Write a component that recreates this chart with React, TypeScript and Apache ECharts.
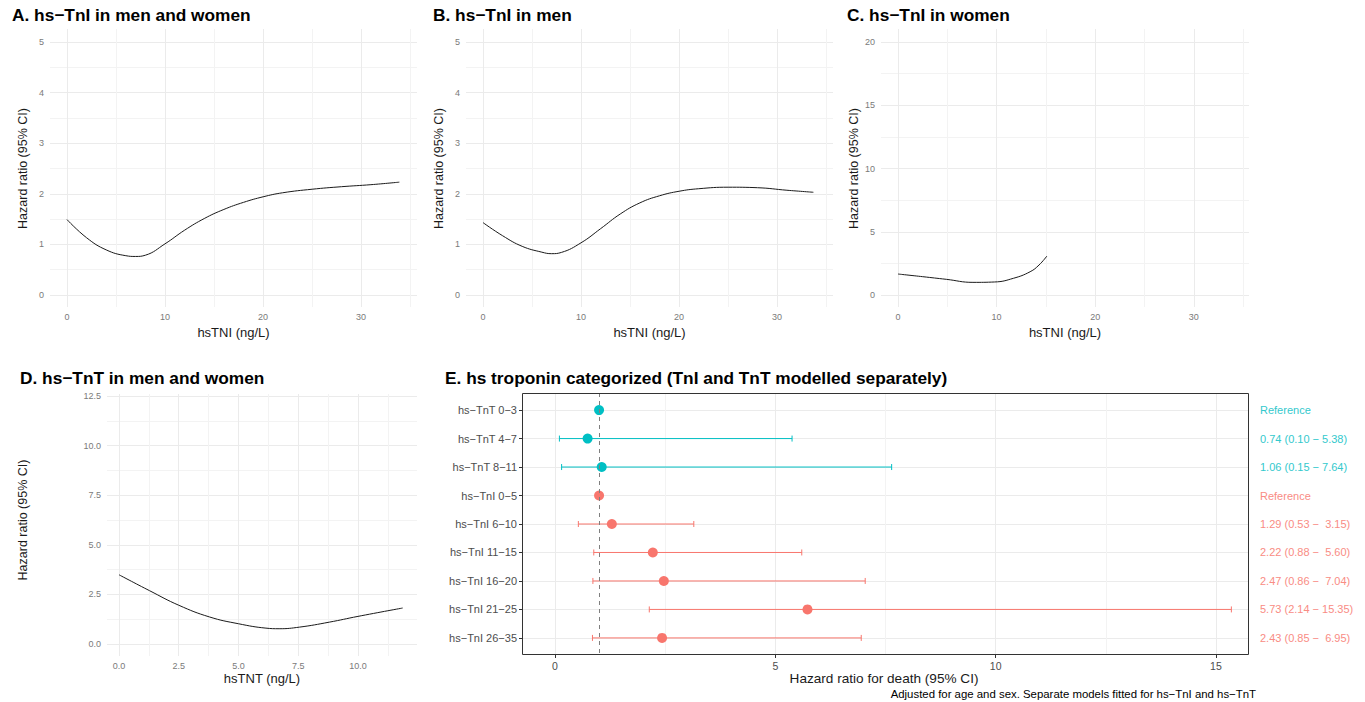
import React, { useEffect, useRef } from 'react';
import * as echarts from 'echarts';

const FONT = '"Liberation Sans", Arial, Helvetica, sans-serif';
const TEAL = '#00BFC4';
const SALMON = '#F8766D';
const GRID_COLORS = ['#ebebeb', '#f3f3f3'];
const TICK_COLOR = '#7a7a7a';

// Panel A: hs-TnI in men and women
const aX = [0, 2, 4, 6, 7, 8, 10, 12, 14, 16, 18, 20, 22, 25, 28, 31, 33.9];
const aY = [1.48, 1.12, 0.88, 0.765, 0.75, 0.775, 1.0, 1.27, 1.5, 1.68, 1.82, 1.93, 2.01, 2.08, 2.13, 2.17, 2.22];
// Panel B: hs-TnI in men
const bX = [0, 2, 4, 6, 7, 8, 10, 12, 14, 16, 18, 20, 22, 25, 28, 31, 33.7];
const bY = [1.42, 1.16, 0.95, 0.835, 0.805, 0.83, 1.02, 1.3, 1.59, 1.81, 1.95, 2.04, 2.09, 2.12, 2.11, 2.06, 2.02];
// Panel C: hs-TnI in women
const cX = [0, 2.5, 4.9, 7.6, 9.8, 11.7, 13.4, 14.3, 15.1];
const cY = [1.61, 1.4, 1.19, 0.95, 0.98, 1.27, 1.79, 2.32, 3.03];
// Panel D: hs-TnT in men and women
const dX = [0, 1.28, 2.5, 3.79, 5.0, 6.15, 6.7, 7.55, 8.8, 10, 11.87];
const dY = [3.48, 2.68, 1.95, 1.36, 1.02, 0.8, 0.77, 0.85, 1.1, 1.39, 1.81];

// Panel E: categorized troponin
const eCats = ['hs−TnT 0−3', 'hs−TnT 4−7', 'hs−TnT 8−11', 'hs−TnI 0−5', 'hs−TnI 6−10', 'hs−TnI 11−15', 'hs−TnI 16−20', 'hs−TnI 21−25', 'hs−TnI 26−35'];
const eGroup = [0, 0, 0, 1, 1, 1, 1, 1, 1]; // 0 = TnT, 1 = TnI
const eHR = [1, 0.74, 1.06, 1, 1.29, 2.22, 2.47, 5.73, 2.43];
const eLo = [null, 0.1, 0.15, null, 0.53, 0.88, 0.86, 2.14, 0.85];
const eHi = [null, 5.38, 7.64, null, 3.15, 5.6, 7.04, 15.35, 6.95];
const eRight = ['Reference', '0.74 (0.10 − 5.38)', '1.06 (0.15 − 7.64)', 'Reference', '1.29 (0.53 −  3.15)', '2.22 (0.88 −  5.60)', '2.47 (0.86 −  7.04)', '5.73 (2.14 − 15.35)', '2.43 (0.85 −  6.95)'];
const eXTicks = [0, 5, 10, 15];

const titles = [
  { text: 'A. hs−TnI in men and women', left: 12, top: 6 },
  { text: 'B. hs−TnI in men', left: 433, top: 6 },
  { text: 'C. hs−TnI in women', left: 847, top: 6 },
  { text: 'D. hs−TnT in men and women', left: 20, top: 369 },
  { text: 'E. hs troponin categorized (TnI and TnT modelled separately)', left: 445, top: 369 },
];
const caption = 'Adjusted for age and sex. Separate models fitted for hs−TnI and hs−TnT';

const isMult = (v: number, m: number) => Math.abs(v / m - Math.round(v / m)) < 1e-6;

function buildOption() {
  const grid: any[] = [];
  const xAxis: any[] = [];
  const yAxis: any[] = [];
  const series: any[] = [];

  const curvePanel = (p: any) => {
    // background grid: horizontal grid lines, y labels, axis titles
    const gh = grid.length;
    grid.push({ left: p.hLeft, top: p.hTop, width: p.hWidth, height: p.hHeight });
    xAxis.push({
      gridIndex: gh, type: 'value', min: 0, max: 1, show: true,
      axisLine: { show: false }, axisTick: { show: false }, axisLabel: { show: false }, splitLine: { show: false },
      name: p.xName, nameLocation: 'middle', nameGap: p.xNameGap,
      nameTextStyle: { fontSize: 13, color: '#1a1a1a', fontFamily: FONT },
    });
    yAxis.push({
      gridIndex: gh, type: 'value', min: p.yMin, max: p.yMax, interval: p.yInterval,
      axisLine: { show: false }, axisTick: { show: false },
      axisLabel: {
        color: TICK_COLOR, fontSize: 9, margin: 6, fontFamily: FONT,
        formatter: (v: number) => (isMult(v, p.yLabelEvery) ? p.yFmt(v) : ''),
      },
      splitLine: { show: true, lineStyle: { color: GRID_COLORS, width: 1 } },
      name: p.yName, nameLocation: 'middle', nameGap: p.yNameGap, nameRotate: 90,
      nameTextStyle: { fontSize: 12.5, color: '#1a1a1a', fontFamily: FONT },
    });
    // data grid: vertical grid lines, x labels, curve
    const gv = grid.length;
    grid.push({ left: p.vLeft, top: p.vTop, width: p.vWidth, height: p.vHeight });
    xAxis.push({
      gridIndex: gv, type: 'value', min: 0, max: p.xMax, interval: p.xInterval,
      axisLine: { show: false }, axisTick: { show: false },
      axisLabel: {
        color: TICK_COLOR, fontSize: 9, margin: 5, fontFamily: FONT,
        formatter: (v: number) => (isMult(v, p.xLabelEvery) && v <= p.xLastLabel ? p.xFmt(v) : ''),
      },
      splitLine: { show: true, showMaxLine: false, lineStyle: { color: GRID_COLORS, width: 1 } },
    });
    yAxis.push({ gridIndex: gv, type: 'value', min: p.vYMin, max: p.vYMax, show: false });
    series.push({
      type: 'line', xAxisIndex: xAxis.length - 1, yAxisIndex: yAxis.length - 1,
      data: p.xs.map((x: number, i: number) => [x, p.ys[i]]),
      showSymbol: false, smooth: 0.45, clip: false,
      lineStyle: { color: '#1a1a1a', width: 1 },
    });
  };

  const intFmt = (v: number) => String(Math.round(v));
  const oneDec = (v: number) => v.toFixed(1);

  curvePanel({
    hLeft: 50, hTop: 42, hWidth: 367, hHeight: 253, yMin: 0, yMax: 5, yInterval: 0.5, yLabelEvery: 1, yFmt: intFmt,
    vLeft: 67, vTop: 29, vWidth: 350, vHeight: 278, xMax: 35.7, xInterval: 5, xLabelEvery: 10, xLastLabel: 30, xFmt: intFmt,
    vYMin: -0.25, vYMax: 5.25, xs: aX, ys: aY,
    xName: 'hsTNI (ng/L)', xNameGap: 31, yName: 'Hazard ratio (95% CI)', yNameGap: 21,
  });
  curvePanel({
    hLeft: 466, hTop: 42, hWidth: 367, hHeight: 253, yMin: 0, yMax: 5, yInterval: 0.5, yLabelEvery: 1, yFmt: intFmt,
    vLeft: 483, vTop: 29, vWidth: 350, vHeight: 278, xMax: 35.7, xInterval: 5, xLabelEvery: 10, xLastLabel: 30, xFmt: intFmt,
    vYMin: -0.25, vYMax: 5.25, xs: bX, ys: bY,
    xName: 'hsTNI (ng/L)', xNameGap: 31, yName: 'Hazard ratio (95% CI)', yNameGap: 21,
  });
  curvePanel({
    hLeft: 881, hTop: 42, hWidth: 368, hHeight: 253, yMin: 0, yMax: 20, yInterval: 2.5, yLabelEvery: 5, yFmt: intFmt,
    vLeft: 898, vTop: 29, vWidth: 352, vHeight: 278, xMax: 35.7, xInterval: 5, xLabelEvery: 10, xLastLabel: 30, xFmt: intFmt,
    vYMin: -1, vYMax: 21, xs: cX, ys: cY,
    xName: 'hsTNI (ng/L)', xNameGap: 31, yName: 'Hazard ratio (95% CI)', yNameGap: 21,
  });
  curvePanel({
    hLeft: 107, hTop: 396, hWidth: 310, hHeight: 248, yMin: 0, yMax: 12.5, yInterval: 1.25, yLabelEvery: 2.5, yFmt: oneDec,
    vLeft: 119, vTop: 394, vWidth: 298, vHeight: 262, xMax: 12.47, xInterval: 1.25, xLabelEvery: 2.5, xLastLabel: 10, xFmt: oneDec,
    vYMin: -0.6, vYMax: 12.56, xs: dX, ys: dY,
    xName: 'hsTNT (ng/L)', xNameGap: 28, yName: 'Hazard ratio (95% CI)', yNameGap: 78,
  });

  // Panel E: category labels grid (rows at category centres)
  const gl = grid.length;
  grid.push({ left: 522, top: 393 + 0.6 * 28.48, width: 727, height: 8 * 28.48 });
  xAxis.push({ gridIndex: gl, type: 'value', show: false });
  yAxis.push({
    gridIndex: gl, type: 'category', data: eCats, inverse: true, boundaryGap: false,
    axisLine: { show: false },
    axisTick: { show: true, length: 3, interval: 0, lineStyle: { color: '#333333' } },
    axisLabel: { interval: 0, color: '#4d4d4d', fontSize: 11, margin: 5, fontFamily: FONT },
    splitLine: { show: true, interval: 0, lineStyle: { color: '#ebebeb', width: 1 } },
  });
  yAxis.push({
    gridIndex: gl, type: 'category', position: 'right', data: eRight, inverse: true, boundaryGap: false,
    axisLine: { show: false }, axisTick: { show: false }, splitLine: { show: false },
    axisLabel: {
      interval: 0, fontSize: 11, margin: 11, fontFamily: FONT,
      formatter: (_v: string, i: number) => eRight[i],
      color: (_v: string, i: number) => (eGroup[i] === 0 ? '#33c9cd' : '#f98c84'),
    },
  });

  // Panel E: data grid
  const ge = grid.length;
  grid.push({ left: 555, top: 393, width: 694, height: 262 });
  const exGrid = xAxis.length;
  xAxis.push({
    gridIndex: ge, type: 'value', min: 0, max: 15.75, interval: 2.5,
    axisLine: { show: false }, axisTick: { show: false }, axisLabel: { show: false },
    splitLine: { show: true, showMaxLine: false, lineStyle: { color: GRID_COLORS, width: 1 } },
  });
  xAxis.push({
    gridIndex: ge, type: 'value', min: 0, max: 15.75, interval: 5, position: 'bottom',
    axisLine: { show: false },
    axisTick: { show: true, length: 3, lineStyle: { color: '#333333' }, customValues: eXTicks },
    axisLabel: {
      color: '#4d4d4d', fontSize: 10.5, margin: 5, fontFamily: FONT, customValues: eXTicks,
      formatter: (v: number) => (isMult(v, 5) ? String(v) : ''),
    },
    splitLine: { show: false },
  });
  const eyIdx = yAxis.length;
  yAxis.push({ gridIndex: ge, type: 'value', min: -0.6, max: 8.6, inverse: true, show: false });

  const ciData = eCats
    .map((_c, i) => (eLo[i] != null ? [eLo[i], eHi[i], i, eGroup[i]] : null))
    .filter((d) => d != null);

  series.push({
    type: 'custom', xAxisIndex: exGrid, yAxisIndex: eyIdx, data: ciData,
    encode: { x: [0, 1], y: 2 }, z: 2,
    renderItem: (_params: any, api: any) => {
      const lo = api.value(0);
      const hi = api.value(1);
      const y = api.value(2);
      const color = api.value(3) === 0 ? TEAL : SALMON;
      const p1 = api.coord([lo, y]);
      const p2 = api.coord([hi, y]);
      const h = 3;
      const st = { stroke: color, lineWidth: 1 };
      return {
        type: 'group',
        children: [
          { type: 'line', shape: { x1: p1[0], y1: p1[1], x2: p2[0], y2: p2[1] }, style: st },
          { type: 'line', shape: { x1: p1[0], y1: p1[1] - h, x2: p1[0], y2: p1[1] + h }, style: st },
          { type: 'line', shape: { x1: p2[0], y1: p2[1] - h, x2: p2[0], y2: p2[1] + h }, style: st },
        ],
      };
    },
    markLine: {
      silent: true, symbol: ['none', 'none'], label: { show: false },
      lineStyle: { color: '#7f7f7f', type: [4, 4], width: 1 },
      data: [{ xAxis: 1 }],
    },
  });
  [0, 1].forEach((g) => {
    series.push({
      type: 'scatter', xAxisIndex: exGrid, yAxisIndex: eyIdx, z: 3,
      symbolSize: 10,
      itemStyle: { color: g === 0 ? TEAL : SALMON, opacity: 1 },
      data: eCats.map((_c, i) => (eGroup[i] === g ? [eHR[i], i] : null)).filter((d) => d != null),
    });
  });

  return {
    animation: false,
    backgroundColor: '#ffffff',
    textStyle: { fontFamily: FONT },
    title: [
      ...titles.map((t) => ({
        text: t.text, left: t.left, top: t.top, padding: 0,
        textStyle: { fontSize: 17.3, fontWeight: 'bold', color: '#000000', fontFamily: FONT },
      })),
      {
        text: caption, right: 109, top: 688, padding: 0,
        textStyle: { fontSize: 11.4, fontWeight: 'normal', color: '#000000', fontFamily: FONT },
      },
    ],
    grid,
    xAxis,
    yAxis,
    series,
    graphic: [
      {
        type: 'rect', z: 10, silent: true,
        shape: { x: 522.5, y: 393.5, width: 726, height: 261 },
        style: { fill: 'none', stroke: '#333333', lineWidth: 1 },
      },
      {
        type: 'text', z: 10, x: 884, y: 678,
        style: {
          text: 'Hazard ratio for death (95% CI)', fill: '#1a1a1a', font: `13.6px ${FONT}`,
          align: 'center', verticalAlign: 'middle', textAlign: 'center', textVerticalAlign: 'middle',
        },
      },
    ],
  };
}

export default function App() {
  const ref = useRef<HTMLDivElement>(null);
  useEffect(() => {
    document.body.style.margin = '0';
    document.body.style.overflow = 'hidden';
    if (!ref.current) return;
    const chart = echarts.init(ref.current, undefined, { renderer: 'svg' });
    chart.setOption(buildOption() as any);
    return () => chart.dispose();
  }, []);
  return <div ref={ref} style={{ width: 1365, height: 702 }} />;
}
